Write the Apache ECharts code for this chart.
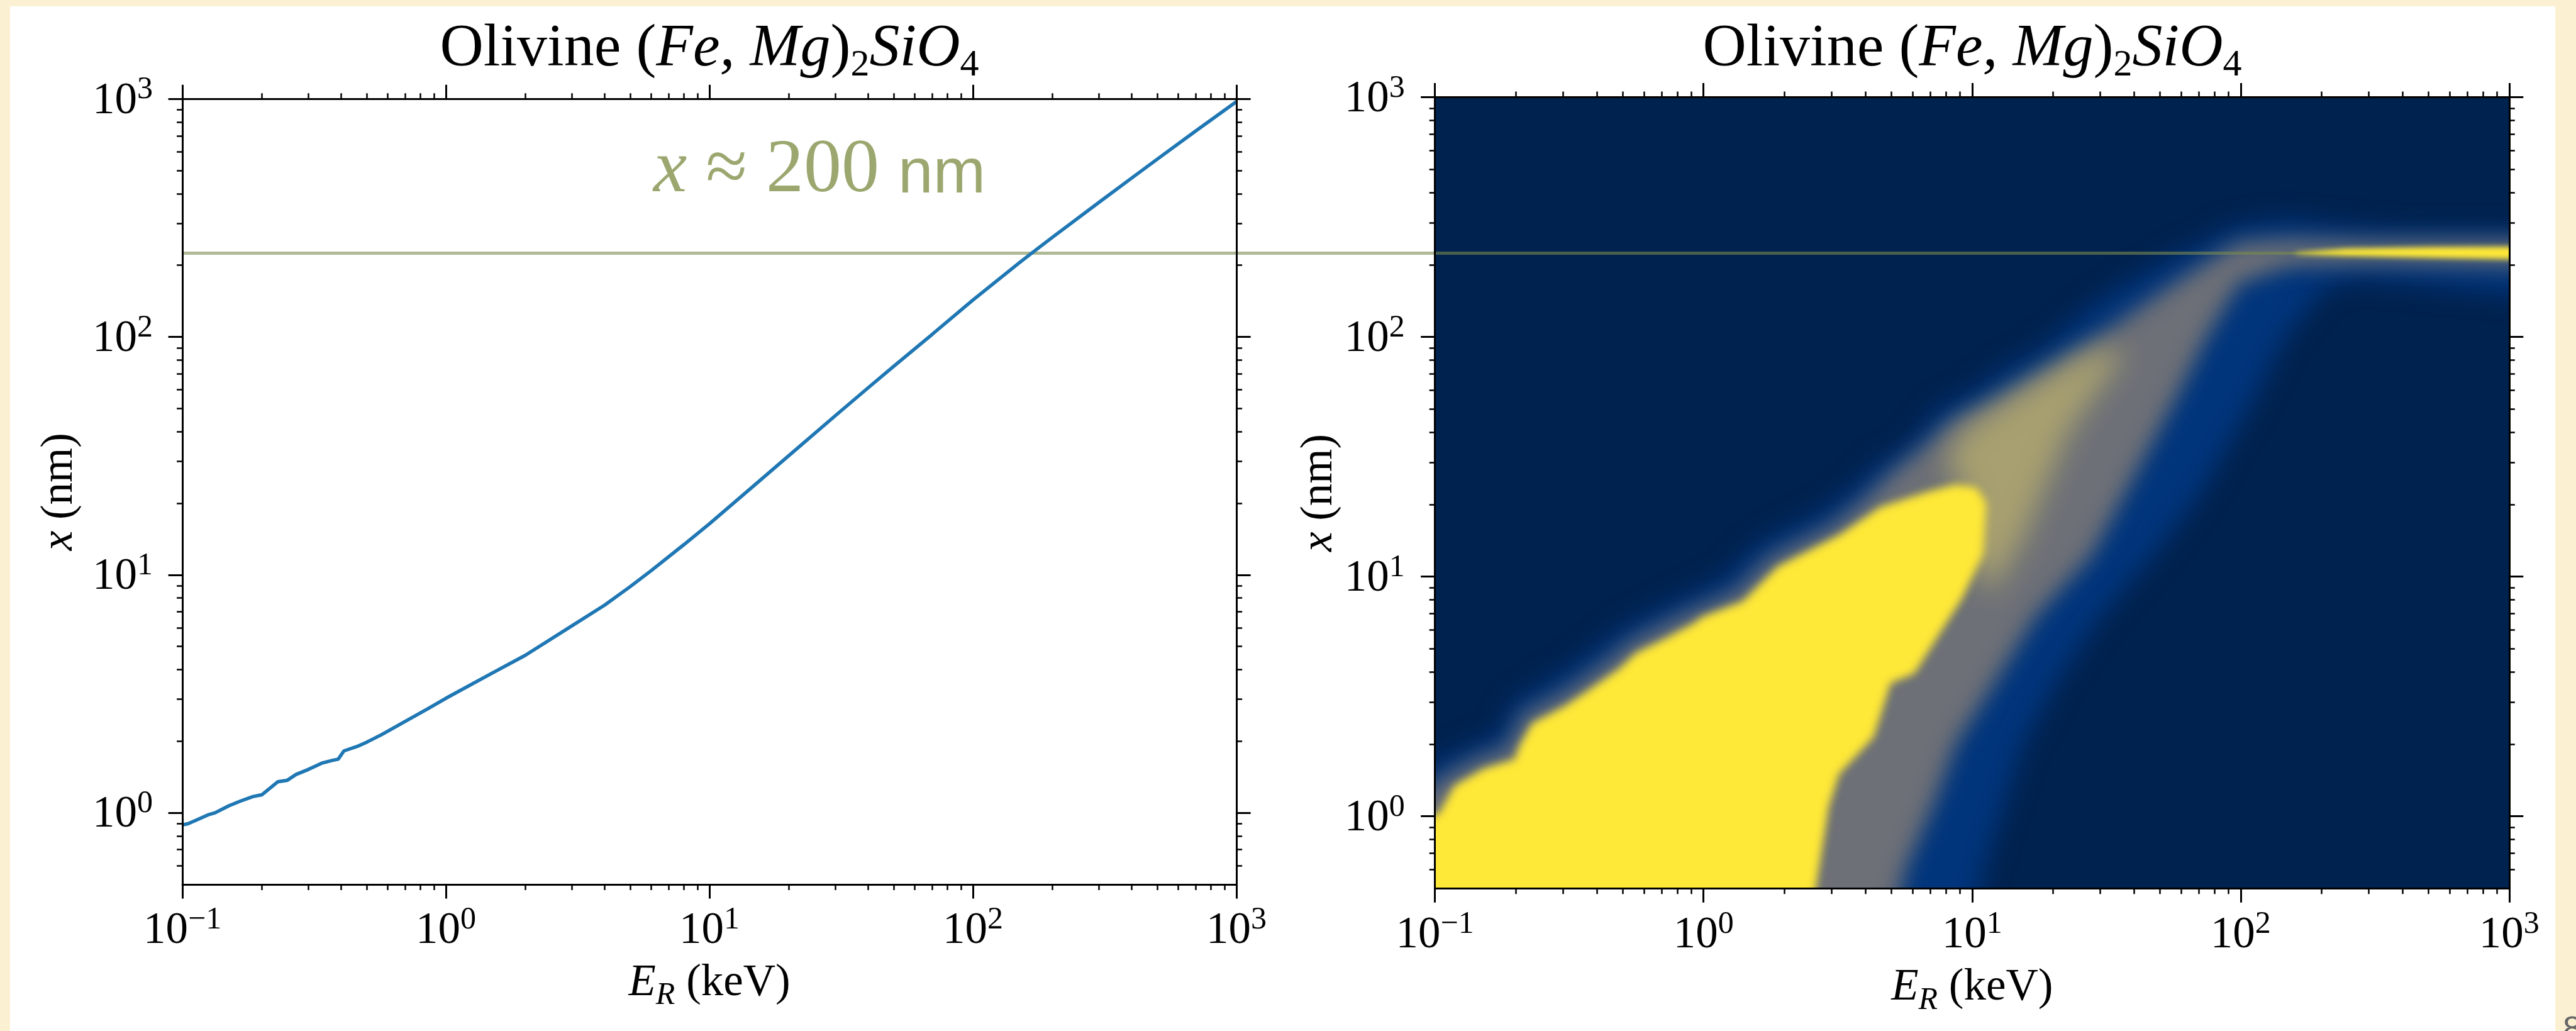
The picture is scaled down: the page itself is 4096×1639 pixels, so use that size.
<!DOCTYPE html>
<html>
<head>
<meta charset="utf-8">
<script src="https://cdn.jsdelivr.net/npm/echarts@6/dist/echarts.min.js"></script>
<style>
html,body{margin:0;padding:0;background:#fbf1d2;}
#c{width:4096px;height:1639px;}
</style>
</head>
<body>
<div id="c"></div>
<script>
// ---------------- data ----------------
// Left panel: projected range x (nm) versus recoil energy E_R (keV)
const energyKeV = [0.1, 0.105, 0.115, 0.125, 0.133, 0.15, 0.166, 0.185, 0.2, 0.215, 0.23, 0.25, 0.27, 0.3, 0.34, 0.37, 0.39, 0.41, 0.46, 0.5, 0.57, 0.7, 0.85, 1.0, 1.5, 2, 3, 4, 5, 6, 8, 10, 15, 20, 30, 40, 50, 70, 100, 150, 168, 200, 300, 400, 500, 700, 1000];
const rangeNm   = [0.89, 0.90, 0.94, 0.98, 1.0, 1.07, 1.12, 1.17, 1.19, 1.27, 1.35, 1.37, 1.45, 1.52, 1.62, 1.66, 1.68, 1.82, 1.9, 1.98, 2.13, 2.42, 2.73, 3.03, 3.87, 4.59, 6.1, 7.46, 8.92, 10.4, 13.4, 16.4, 24.1, 31.7, 46.6, 61.1, 75.2, 102.5, 143, 205, 226, 262, 367, 465, 558, 733, 975];

// Reference line and its annotation
const refLineNm = 225;
const refLabel = ['x', '\u2248', '200', 'nm'];

// Axis ranges and ticks
const xRange = [0.1, 1000];
const yRange = [0.5, 1000];
const xMajor = [0.1, 1, 10, 100, 1000];
const yMajor = [1, 10, 100, 1000];
const xMinor = [0.2,0.3,0.4,0.5,0.6,0.7,0.8,0.9, 2,3,4,5,6,7,8,9, 20,30,40,50,60,70,80,90, 200,300,400,500,600,700,800,900];
const yMinor = [0.6,0.7,0.8,0.9, 2,3,4,5,6,7,8,9, 20,30,40,50,60,70,80,90, 200,300,400,500,600,700,800,900];

// Right panel: density map described as colour-level bands, outlines in (E keV, x nm)
const bandBlue = [[0.0755,0.377],[0.0755,1.32],[0.101,1.69],[0.135,1.95],[0.168,2.15],[0.181,2.40],[0.194,2.99],[0.260,3.61],[0.315,4.14],[0.412,5.15],[0.476,5.90],[0.592,6.76],[0.792,7.9],[1.20,9.9],[1.60,13.7],[2.73,18.5],[3.65,23.6],[4.43,29.4],[5.75,34.6],[7.55,50.6],[9.75,58.0],[14.2,78.3],[17.6,87.3],[27.9,135],[37.8,168],[57.8,220],[72.3,245],[87.3,281],[120,302],[155,308],[214,292],[374,276],[1000,274],[1352,274],[1352,150],[1000,151],[512,163],[273,175],[204,159],[145,97.3],[114,56.5],[71.9,22.7],[47.6,12.3],[30.1,6.8],[20.9,3.71],[15.6,2.02],[13.2,1.12],[11.1,0.603],[10.4,0.377]];
const bandGray = [[0.0832,0.377],[0.0832,1.15],[0.111,1.49],[0.145,1.75],[0.185,1.91],[0.194,2.15],[0.214,2.68],[0.286,3.15],[0.348,3.65],[0.454,4.54],[0.525,5.26],[0.653,6.0],[0.873,7.06],[1.32,8.63],[1.76,12.0],[3.01,16.3],[4.02,21.2],[4.88,26.4],[6.53,34.6],[8.32,44.2],[13.1,56.5],[21.4,78.3],[37.4,121],[57.0,168],[86.1,226],[98.6,248],[152,256],[316,251],[1000,252],[1352,252],[1352,198],[1000,198],[316,203],[152,198],[98.6,168],[73.6,97.3],[57.8,56.5],[37.4,22.7],[27.9,12.3],[17.2,6.8],[12.3,3.71],[8.73,2.02],[7.19,1.12],[5.65,0.603],[5.12,0.377]];
const bandTan = [[9.16,14.5],[9.6,22.4],[7.93,29.4],[9.16,40.7],[14.2,56.5],[23.0,78.3],[31.0,90.0],[37.0,86.0],[30.0,62.0],[23.0,40.7],[19.0,24.9],[15.6,14.5],[11.7,8.4]];
const bandYellow = [[0.06,0.3],[0.06,1.0],[0.1,1.0],[0.1045,1.045],[0.118,1.34],[0.152,1.58],[0.198,1.73],[0.206,1.96],[0.230,2.44],[0.305,2.88],[0.370,3.33],[0.488,4.14],[0.561,4.8],[0.702,5.43],[0.925,6.4],[0.99,6.8],[1.40,7.87],[1.89,11.0],[3.20,14.9],[4.56,19.5],[6.89,22.7],[8.69,24.2],[10.4,23.5],[11.3,20.2],[11.0,12.4],[9.2,8.13],[7.73,6.0],[6.10,3.94],[4.98,3.59],[4.30,2.14],[3.20,1.5],[2.93,1.10],[2.61,0.49],[2.55,0.3]];
const streakYellow = [[160,225],[248,234],[512,237],[1000,238],[1352,238],[1352,211],[1000,211],[512,214],[248,218],[160,222]];

// ---------------- styling ----------------
const SERIF = "'Liberation Serif','Times New Roman',serif";
const SANS = "'Liberation Sans',Arial,sans-serif";
const BLACK = '#000';

const tickRich = {
  b: {fontFamily: SERIF, fontSize: 71, height: 71, lineHeight: 71, verticalAlign: 'bottom', color: BLACK},
  s: {fontFamily: SERIF, fontSize: 50, height: 50, lineHeight: 78.4, padding: [0, 0, 28.4, 0], verticalAlign: 'bottom', color: BLACK}
};
function powLabel(v) {
  const p = Math.round(Math.log10(v));
  return '{b|10}{s|' + (p < 0 ? '\u2212' + (-p) : p) + '}';
}
const nameRich = {
  i: {fontFamily: SERIF, fontStyle: 'italic', fontSize: 71, height: 71, lineHeight: 71, verticalAlign: 'top', color: BLACK},
  r: {fontFamily: SERIF, fontSize: 71, height: 71, lineHeight: 71, verticalAlign: 'top', color: BLACK},
  sub: {fontFamily: SERIF, fontStyle: 'italic', fontSize: 50, height: 50, lineHeight: 80.2, padding: [30.2, 0, 0, 0], verticalAlign: 'top', color: BLACK}
};

const grids = [
  {left: 290.1, top: 157.3, width: 1676, height: 1248.7},
  {left: 2281.7, top: 154.6, width: 1708.1, height: 1257.7, show: true, backgroundColor: '#00224e', borderWidth: 0},
  {left: 290.1, top: 157.3, width: 3699.7, height: 1248.7}
];

function axisGroup(dim, g, range, majors, minors, name, nameGap, labelMargin) {
  const pos = dim === 'x' ? ['bottom', 'top'] : ['left', 'right'];
  const base = {type: 'log', logBase: 10, min: range[0], max: range[1], gridIndex: g, z: 20,
    splitLine: {show: false}, minorTick: {show: false}, minorSplitLine: {show: false}, silent: true};
  const out = [];
  pos.forEach(function (p, k) {
    out.push(Object.assign({}, base, {
      position: p,
      axisLine: {show: true, onZero: false, lineStyle: {color: BLACK, width: 3}},
      axisTick: {show: true, inside: false, length: 22.5, customValues: majors, lineStyle: {color: BLACK, width: 3}},
      axisLabel: k === 0 ? {show: true, customValues: majors, formatter: powLabel, margin: labelMargin, rich: tickRich} : {show: false},
      name: k === 0 ? name : '',
      nameLocation: 'middle',
      nameGap: nameGap,
      nameTextStyle: {rich: nameRich}
    }));
    out.push(Object.assign({}, base, {
      position: p,
      axisLine: {show: false, onZero: false},
      axisTick: {show: true, inside: false, length: 9, customValues: minors, lineStyle: {color: BLACK, width: 2.5}},
      axisLabel: {show: false}
    }));
  });
  return out;
}

const xName = '{i|E}{sub|R}{r| (keV)}';
const yName = '{i|x}{r| (nm)}';

const xAxes = [].concat(
  axisGroup('x', 0, xRange, xMajor, xMinor, xName, 121.5, 31.5),
  axisGroup('x', 1, xRange, xMajor, xMinor, xName, 123, 32.5),
  [{type: 'value', gridIndex: 2, min: 0, max: 1, show: false}]
);
const yAxes = [].concat(
  axisGroup('y', 0, yRange, yMajor, yMinor, yName, 159, 47),
  axisGroup('y', 1, yRange, yMajor, yMinor, yName, 139, 48),
  [{type: 'log', logBase: 10, gridIndex: 2, min: yRange[0], max: yRange[1], show: false}]
);

// soft-edged band: only the blurred shadow of the polygon lands inside the plot
const SHIFT = 9000;
function blurredBand(color, blur) {
  return function (params, api) {
    if (params.dataIndexInside !== 0) return null;
    const pts = [];
    for (let i = 0; i < params.dataInsideLength; i++) {
      const c = api.coord([api.value(0, i), api.value(1, i)]);
      pts.push([c[0] - SHIFT, c[1]]);
    }
    return {type: 'polygon', silent: true, shape: {points: pts},
      style: {fill: color, shadowColor: color, shadowBlur: blur, shadowOffsetX: SHIFT, shadowOffsetY: 0}};
  };
}
function bandSeries(data, color, blur, z) {
  return {type: 'custom', xAxisIndex: 4, yAxisIndex: 4, clip: true, silent: true, z: z,
    renderItem: blurredBand(color, blur), data: data};
}

const titleRich = {
  r: {fontFamily: SERIF, fontSize: 96, height: 96, lineHeight: 96, verticalAlign: 'top', fill: BLACK},
  i: {fontFamily: SERIF, fontStyle: 'italic', fontSize: 96, height: 96, lineHeight: 96, verticalAlign: 'top', fill: BLACK},
  sb: {fontFamily: SERIF, fontSize: 60, height: 60, lineHeight: 103.6, padding: [43.6, 0, 0, 0], verticalAlign: 'top', fill: BLACK}
};
const titleText = '{r|Olivine (}{i|Fe, Mg}{r|)}{sb|2}{i|SiO}{sb|4}';
const GREEN = '#9ba76f';
const annRich = {
  xi: {fontFamily: SERIF, fontStyle: 'italic', fontSize: 120, height: 120, lineHeight: 120, verticalAlign: 'bottom', fill: GREEN},
  sr: {fontFamily: SERIF, fontSize: 120, height: 120, lineHeight: 120, verticalAlign: 'bottom', fill: GREEN},
  ss: {fontFamily: SANS, fontSize: 100, height: 100, lineHeight: 104, padding: [0, 0, 4, 0], verticalAlign: 'bottom', fill: GREEN}
};

const option = {
  animation: false,
  backgroundColor: '#fbf1d2',
  textStyle: {fontFamily: SERIF},
  grid: grids,
  xAxis: xAxes,
  yAxis: yAxes,
  graphic: [
    {type: 'rect', z: -100, silent: true, shape: {x: 16, y: 10, width: 4047, height: 1640}, style: {fill: '#ffffff'}},
    {type: 'text', z: 50, x: 1128, y: 31.1, silent: true, style: {text: titleText, rich: titleRich, align: 'center', verticalAlign: 'top'}},
    {type: 'text', z: 50, x: 3136, y: 31.1, silent: true, style: {text: titleText, rich: titleRich, align: 'center', verticalAlign: 'top'}},
    {type: 'text', z: 50, x: 1039, y: 332.5, silent: true, style: {
      text: '{xi|' + refLabel[0] + '}{sr| ' + refLabel[1] + ' ' + refLabel[2] + ' }{ss|' + refLabel[3] + '}',
      rich: annRich, align: 'left', verticalAlign: 'bottom'}},
    {type: 'text', z: 50, x: 4075, y: 1611, silent: true, style: {text: '8', fontFamily: SANS, fontSize: 54, fill: '#666666', align: 'left', verticalAlign: 'top'}}
  ],
  series: [
    {type: 'line', xAxisIndex: 0, yAxisIndex: 0, showSymbol: false, symbol: 'none', clip: true, z: 5,
      lineStyle: {color: '#1f77b4', width: 5.5}, itemStyle: {color: '#1f77b4'},
      data: energyKeV.map(function (e, i) { return [e, rangeNm[i]]; })},
    bandSeries(bandBlue, '#00357c', 40, 2),
    bandSeries(bandGray, '#6d7077', 34, 3),
    bandSeries(bandTan, '#a8a070', 45, 4),
    bandSeries(bandYellow, '#fee838', 14, 5),
    bandSeries(streakYellow, '#fee838', 8, 6),
    {type: 'line', xAxisIndex: 8, yAxisIndex: 8, data: [], z: 10, silent: true,
      markLine: {silent: true, symbol: ['none', 'none'], label: {show: false},
        lineStyle: {color: 'rgba(122,138,78,0.6)', width: 5, type: 'solid'},
        emphasis: {disabled: true},
        data: [{yAxis: refLineNm}]}}
  ]
};

const chart = echarts.init(document.getElementById('c'), null, {renderer: 'canvas'});
chart.setOption(option);
</script>
</body>
</html>
